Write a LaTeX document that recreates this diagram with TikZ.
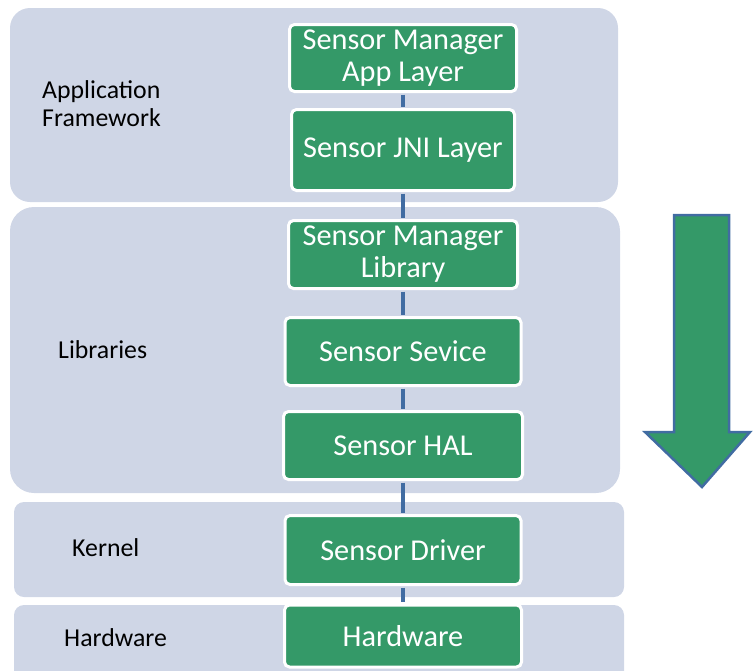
\documentclass[tikz,border=0pt]{standalone}
\usepackage{fontspec}
\setmainfont{Carlito}
\definecolor{panelbg}{RGB}{207,214,230}
\definecolor{boxgreen}{RGB}{52,153,104}
\definecolor{linkblue}{RGB}{65,108,162}
\begin{document}
\begin{tikzpicture}[x=1pt,y=-1pt,
  panel/.style={rectangle, fill=panelbg, draw=none, inner sep=0pt},
  layerlabel/.style={anchor=west, align=left, inner sep=0pt,
    font=\fontsize{25.8}{28}\selectfont},
  stackbox/.style={rectangle, rounded corners=5pt, fill=boxgreen, draw=white,
    line width=3pt, text=white, align=center, inner sep=0pt,
    font=\fontsize{30.3}{32}\selectfont},
  link/.style={draw=linkblue, line width=3.2pt, shorten <=1.5pt, shorten >=1.5pt}]
\useasboundingbox (0,0) rectangle (753,670);
\clip (0,0) rectangle (753,670);

% layer panels
\node[panel, rounded corners=20pt, minimum width=608pt, minimum height=194pt] (pApp) at (314,105) {};
\node[panel, rounded corners=24pt, minimum width=610pt, minimum height=286pt] (pLib) at (315,350) {};
\node[panel, rounded corners=10pt, minimum width=610pt, minimum height=95pt] (pKer) at (319,549.5) {};
\node[panel, rounded corners=10pt, minimum width=610pt, minimum height=90pt] (pHw) at (319,650) {};

% layer names
\node[layerlabel] (lApp) at (42,104) {Application\\Framework};
\node[layerlabel] (lLib) at (58,350) {Libraries};
\node[layerlabel] (lKer) at (72,548) {Kernel};
\node[layerlabel] (lHw) at (64,638) {Hardware};

% sensor stack
\node[stackbox, minimum width=227pt, minimum height=67pt] (b1) at (403,58) {Sensor Manager\\App Layer};
\node[stackbox, minimum width=223pt, minimum height=81pt] (b2) at (403,150) {Sensor JNI Layer};
\node[stackbox, minimum width=229pt, minimum height=68pt] (b3) at (403,254.5) {Sensor Manager\\Library};
\node[stackbox, minimum width=236pt, minimum height=68pt] (b4) at (403,351.5) {Sensor Sevice};
\node[stackbox, minimum width=239pt, minimum height=68pt] (b5) at (403,445.5) {Sensor HAL};
\node[stackbox, minimum width=236pt, minimum height=69pt] (b6) at (403,550) {Sensor Driver};
\node[stackbox, minimum width=237pt, minimum height=62pt] (b7) at (403,636) {Hardware};

% links between the stack entries
\draw[link] (b1.south) -- (b2.north);
\draw[link] (b2.south) -- (b3.north);
\draw[link] (b3.south) -- (b4.north);
\draw[link] (b4.south) -- (b5.north);
\draw[link] (b5.south) -- (b6.north);
\draw[link] (b6.south) -- (b7.north);

% downward flow arrow
\draw[fill=boxgreen, draw=linkblue, line width=2.5pt, line join=miter]
  (674,215) -- (729,215) -- (729,432) -- (750,432) -- (702,487)
  -- (645,432) -- (674,432) -- cycle;
\end{tikzpicture}
\end{document}
